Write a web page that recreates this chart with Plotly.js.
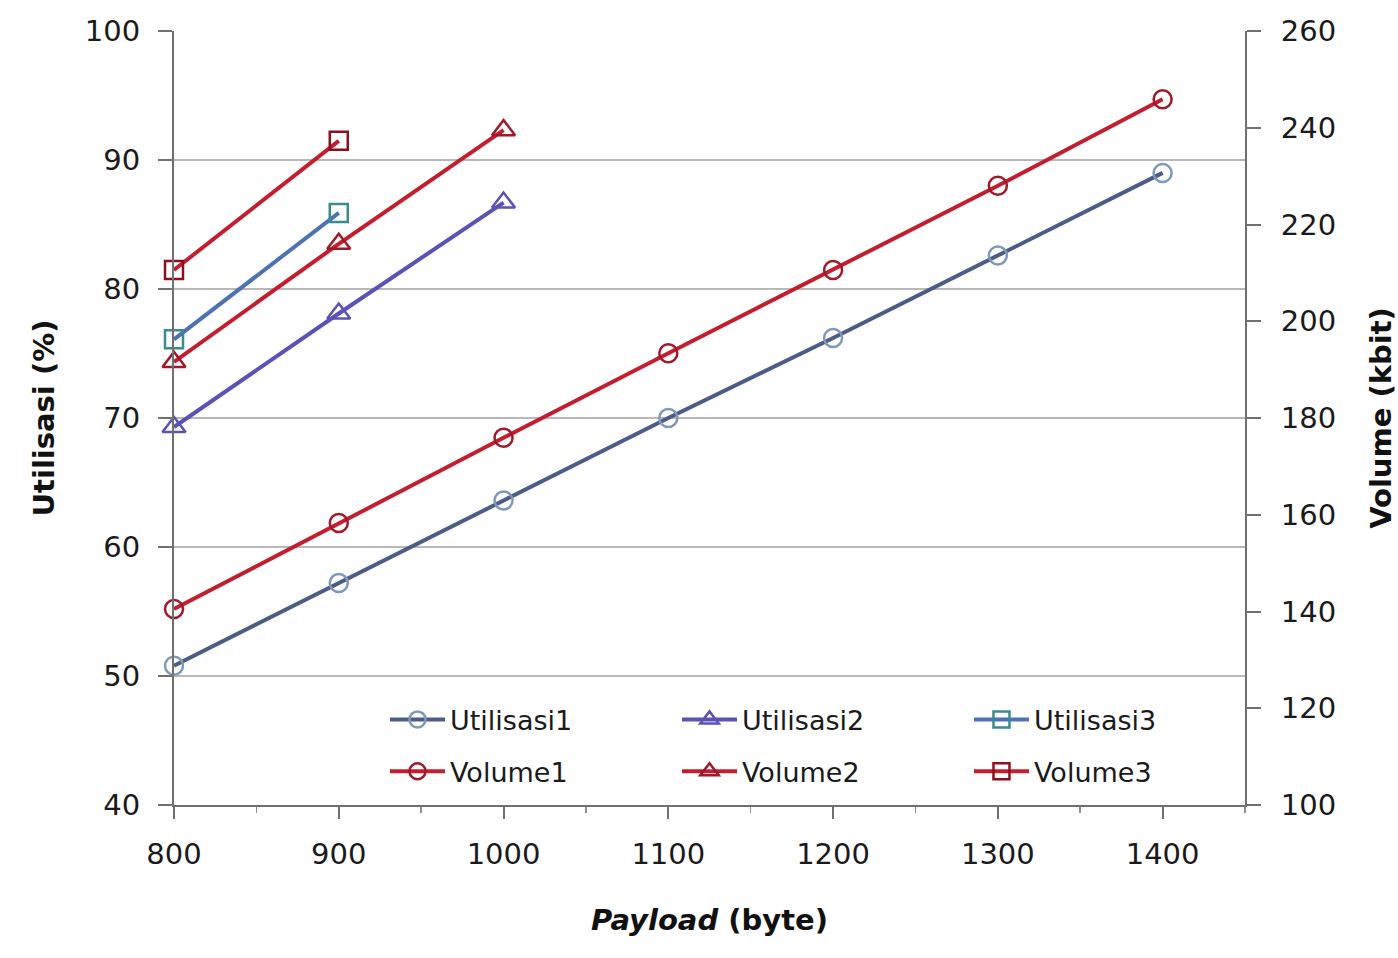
<!DOCTYPE html>
<html>
<head>
<meta charset="utf-8">
<script src="https://cdn.plot.ly/plotly-3.0.1.min.js"></script>
<style>html,body{margin:0;padding:0;background:#fff;}#chart{width:1398px;height:958px;}</style>
</head>
<body>
<div id="chart"></div>
<script>
const payload1 = [800, 900, 1000, 1100, 1200, 1300, 1400];
const payload2 = [800, 900, 1000];
const payload3 = [800, 900];
const utilisasi1 = [50.8, 57.2, 63.6, 70.0, 76.2, 82.6, 89.0];
const utilisasi2 = [69.3, 78.1, 86.7];
const utilisasi3 = [76.1, 85.9];
const volume1 = [140.5, 158.3, 175.9, 193.4, 210.6, 228.0, 245.9];
const volume2 = [191.6, 216.0, 239.5];
const volume3 = [210.6, 237.3];
const xTicks = [800, 900, 1000, 1100, 1200, 1300, 1400];

const fontFam = "'DejaVu Sans', 'Liberation Sans', sans-serif";

function tr(name, x, y, axis, lineColor, markerColor, symbol, legend, size) {
  return {
    type: 'scatter', mode: 'lines+markers', name: name, x: x, y: y, yaxis: axis,
    legend: legend,
    line: {color: lineColor, width: 4},
    marker: {symbol: symbol, size: size, color: markerColor, line: {color: markerColor, width: 2.5}},
    cliponaxis: false
  };
}

const data = [
  tr('Utilisasi1', payload1, utilisasi1, 'y', '#4b5d86', '#7f98b8', 'circle-open', 'legend', 18),
  tr('Utilisasi2', payload2, utilisasi2, 'y', '#5b52b6', '#5b52b6', 'triangle-up-open', 'legend', 20),
  tr('Utilisasi3', payload3, utilisasi3, 'y', '#4c72b2', '#3a8a8f', 'square-open', 'legend', 18),
  tr('Volume1', payload1, volume1, 'y2', '#c41e2e', '#a0182a', 'circle-open', 'legend2', 18),
  tr('Volume2', payload2, volume2, 'y2', '#c41e2e', '#a0182a', 'triangle-up-open', 'legend2', 20),
  tr('Volume3', payload3, volume3, 'y2', '#c41e2e', '#8a1020', 'square-open', 'legend2', 18)
];

const legendBase = {
  orientation: 'h', xanchor: 'left', yanchor: 'middle',
  entrywidth: 222, entrywidthmode: 'pixels',
  bgcolor: 'rgba(255,255,255,0)', borderwidth: 0,
  font: {size: 27, family: fontFam, color: '#1a1a1a'},
  itemwidth: 55
};

const layout = {
  width: 1398, height: 958,
  margin: {l: 174, r: 153, t: 31, b: 153},
  paper_bgcolor: '#ffffff', plot_bgcolor: '#ffffff',
  font: {family: fontFam, color: '#1a1a1a', size: 28},
  showlegend: true,
  xaxis: {
    range: [800, 1450], tickvals: xTicks, ticktext: xTicks.map(String),
    showgrid: false, zeroline: false,
    showline: true, linecolor: '#707070', linewidth: 2,
    ticks: 'outside', ticklen: 12, tickwidth: 2, tickcolor: '#707070',
    minor: {dtick: 50, ticks: 'outside', ticklen: 6, tickcolor: '#909090', tickwidth: 1.5},
    ticklabelstandoff: 10,
    tickfont: {size: 29, family: fontFam, color: '#1a1a1a'},
    title: {text: '<b><i>Payload</i> (byte)</b>', font: {size: 29, family: fontFam, color: '#111'}, standoff: 40}
  },
  yaxis: {
    range: [40, 100], dtick: 10, tick0: 40,
    showgrid: true, gridcolor: '#b8b8b8', gridwidth: 2, zeroline: false,
    showline: true, linecolor: '#707070', linewidth: 2,
    ticks: 'outside', ticklen: 14, tickwidth: 2, tickcolor: '#707070',
    ticklabelstandoff: 12,
    tickfont: {size: 29, family: fontFam, color: '#1a1a1a'},
    title: {text: '<b>Utilisasi (%)</b>', font: {size: 29, family: fontFam, color: '#111'}, standoff: 22}
  },
  yaxis2: {
    range: [100, 260], dtick: 20, tick0: 100, overlaying: 'y', side: 'right',
    showgrid: false, zeroline: false,
    showline: true, linecolor: '#707070', linewidth: 2,
    ticks: 'outside', ticklen: 14, tickwidth: 2, tickcolor: '#707070',
    ticklabelstandoff: 14,
    tickfont: {size: 29, family: fontFam, color: '#1a1a1a'},
    title: {text: '<b>Volume (kbit)</b>', font: {size: 29, family: fontFam, color: '#111'}, standoff: 36}
  },
  legend: Object.assign({}, legendBase, {x: 0.197, y: 0.11}),
  legend2: Object.assign({}, legendBase, {x: 0.197, y: 0.043})
};

Plotly.newPlot('chart', data, layout, {displayModeBar: false, staticPlot: true});
</script>
</body>
</html>
